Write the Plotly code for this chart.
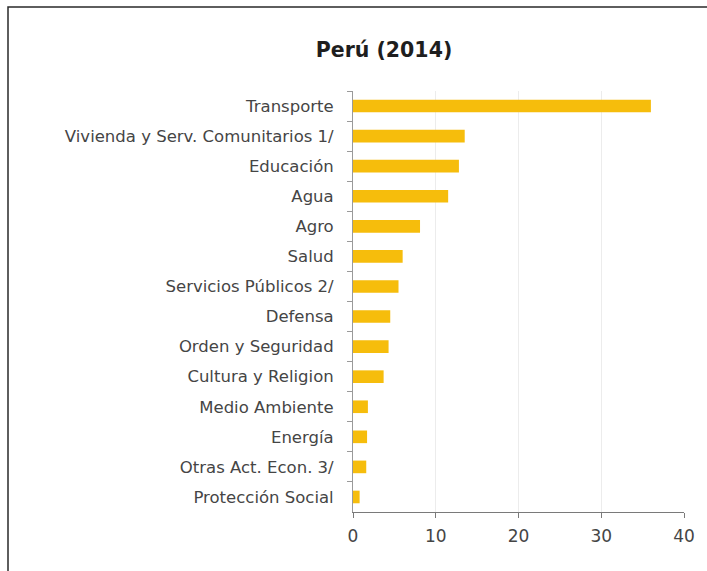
import plotly.graph_objects as go

# Public investment by function, Peru 2014 (% of total)
categorias = [
    "Transporte",
    "Vivienda y Serv. Comunitarios 1/",
    "Educación",
    "Agua",
    "Agro",
    "Salud",
    "Servicios Públicos 2/",
    "Defensa",
    "Orden y Seguridad",
    "Cultura y Religion",
    "Medio Ambiente",
    "Energía",
    "Otras Act. Econ. 3/",
    "Protección Social",
]
valores = [36.0, 13.5, 12.8, 11.5, 8.1, 6.0, 5.5, 4.5, 4.3, 3.7, 1.8, 1.7, 1.6, 0.8]
ticks_x = [0, 10, 20, 30, 40]
titulo = "Perú (2014)"

W, H = 707, 571
L, R, T, B = 353, 23, 91, 59
pw, ph = W - L - R, H - T - B

def px_x(p):
    return (p - L) / pw

def px_y(p):
    return (H - B - p) / ph

fig = go.Figure(
    go.Bar(
        x=valores,
        y=categorias,
        orientation="h",
        marker=dict(color="#F6BD0C", line=dict(width=0)),
        width=0.42,
        hoverinfo="x+y",
    )
)

fig.update_layout(
    width=W,
    height=H,
    margin=dict(l=L, r=R, t=T, b=B),
    paper_bgcolor="white",
    plot_bgcolor="white",
    showlegend=False,
    title=dict(
        text="<b>" + titulo + "</b>",
        x=px_x(384), xanchor="center", xref="paper",
        y=1 - 50 / H, yanchor="middle", yref="container",
        font=dict(family="DejaVu Sans", size=20.5, color="#1e1e1e"),
    ),
    shapes=[
        dict(
            type="rect", xref="paper", yref="paper",
            x0=px_x(8), x1=px_x(715), y0=px_y(580), y1=px_y(7),
            line=dict(color="#2a2a2a", width=1.5), fillcolor="rgba(0,0,0,0)",
            layer="below",
        )
    ],
)

fig.update_xaxes(
    range=[0, 40],
    tickvals=ticks_x,
    ticks="outside",
    ticklen=5,
    tickcolor="#7a7a7a",
    showline=True,
    linecolor="#7a7a7a",
    linewidth=1,
    showgrid=True,
    gridcolor="#ececec",
    gridwidth=1,
    zeroline=False,
    ticklabelstandoff=4,
    tickfont=dict(family="DejaVu Sans", size=17, color="#454545"),
)

fig.update_yaxes(
    categoryorder="array",
    categoryarray=categorias,
    autorange="reversed",
    ticks="outside",
    tickson="boundaries",
    ticklen=5,
    tickcolor="#9a9a9a",
    showline=True,
    linecolor="#9a9a9a",
    linewidth=1,
    showgrid=False,
    ticklabelstandoff=15,
    tickfont=dict(family="DejaVu Sans", size=16.5, color="#454545"),
)

fig.write_html("out.html")
